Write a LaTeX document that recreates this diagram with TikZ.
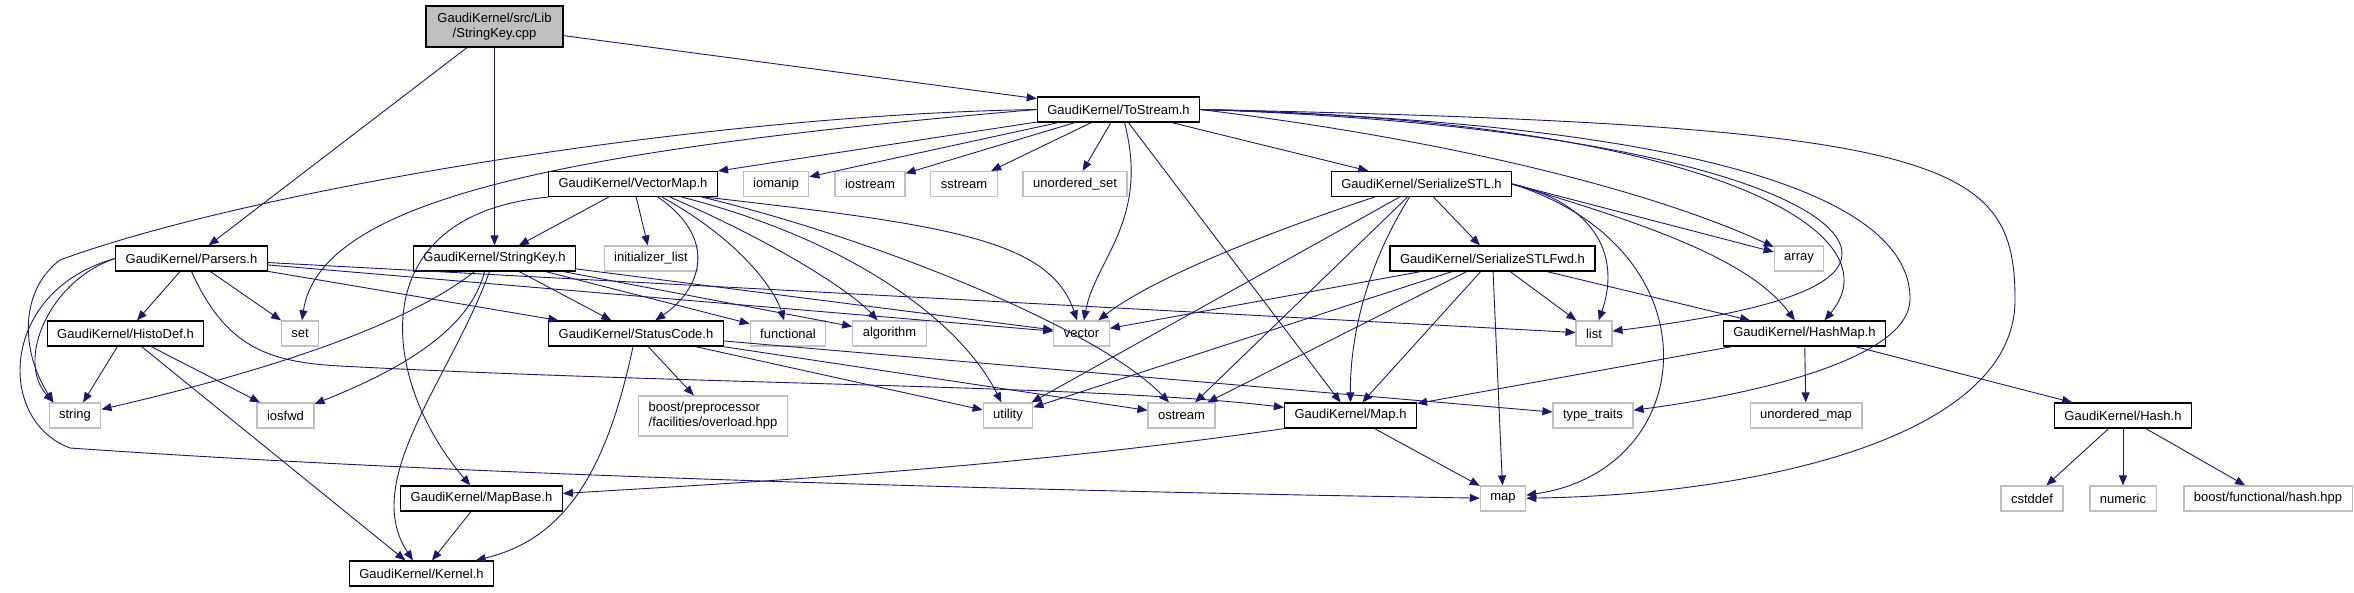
\documentclass[tikz,border=0pt]{standalone}
\usepackage{fontspec}
\setmainfont{Liberation Sans}
\usetikzlibrary{arrows.meta}
\definecolor{edgeblue}{HTML}{191970}
\definecolor{sysgray}{HTML}{BFBFBF}

\begin{document}
\begin{tikzpicture}
	[x=1pt, y=-1pt, font=\fontsize{13}{15}\selectfont,
	 hdr/.style ={rectangle, draw=black, line width=1.2pt, minimum height=25pt, inner xsep=10pt, inner ysep=2pt},
	 sys/.style ={hdr, draw=sysgray},
	 link/.style ={draw=edgeblue, line width=0.9pt, -{Triangle[length=10pt,width=8pt]}}]
	\path[fill=white, use as bounding box] (0,0) rectangle (2354,592);

	\node [hdr, fill=sysgray, align=center, minimum width=137pt, minimum height=41pt] (stringkeycpp) at (494.5,26.5) {GaudiKernel/src/Lib\\/StringKey.cpp};
	\node [hdr] (tostream) at (1118.5,109.5) {GaudiKernel/ToStream.h};
	\node [hdr] (vectormap) at (633,184) {GaudiKernel/VectorMap.h};
	\node [sys] (iomanip) at (776,184) {iomanip};
	\node [sys] (iostream) at (870,184) {iostream};
	\node [sys] (sstream) at (964,184) {sstream};
	\node [sys] (unorderedset) at (1075,184) {unordered\_set};
	\node [hdr] (serializestl) at (1421.5,184) {GaudiKernel/SerializeSTL.h};
	\node [hdr] (parsers) at (191.5,258.5) {GaudiKernel/Parsers.h};
	\node [hdr] (stringkey) at (494.5,258.5) {GaudiKernel/StringKey.h};
	\node [sys] (initlist) at (651,258.5) {initializer\_list};
	\node [hdr] (serializestlfwd) at (1492.5,258.5) {GaudiKernel/SerializeSTLFwd.h};
	\node [sys] (array) at (1799,258.5) {array};
	\node [hdr] (histodef) at (125.5,333.5) {GaudiKernel/HistoDef.h};
	\node [sys] (set) at (300,333.5) {set};
	\node [hdr] (statuscode) at (636,333.5) {GaudiKernel/StatusCode.h};
	\node [sys] (functional) at (788,333.5) {functional};
	\node [sys] (algorithm) at (889.5,333.5) {algorithm};
	\node [sys] (vector) at (1081.5,333.5) {vector};
	\node [sys] (list) at (1594,333.5) {list};
	\node [hdr] (hashmap) at (1804.5,333.5) {GaudiKernel/HashMap.h};
	\node [sys] (string) at (75,415.5) {string};
	\node [sys] (iosfwd) at (285.5,415.5) {iosfwd};
	\node [sys, align=left, minimum height=40pt] (overload) at (713,416) {boost/preprocessor\\/facilities/overload.hpp};
	\node [sys] (utility) at (1008,415.5) {utility};
	\node [sys] (ostream) at (1181.5,415.5) {ostream};
	\node [hdr] (maph) at (1350.5,415.5) {GaudiKernel/Map.h};
	\node [sys] (typetraits) at (1593,415.5) {type\_traits};
	\node [sys] (unorderedmap) at (1806,415.5) {unordered\_map};
	\node [hdr] (hash) at (2123,415.5) {GaudiKernel/Hash.h};
	\node [hdr] (mapbase) at (481.5,498.5) {GaudiKernel/MapBase.h};
	\node [sys] (map) at (1503,498.5) {map};
	\node [sys] (cstddef) at (2032,498.5) {cstddef};
	\node [sys] (numeric) at (2123,498.5) {numeric};
	\node [sys] (boosthash) at (2268,498.5) {boost/functional/hash.hpp};
	\node [hdr] (kernel) at (421.5,573.5) {GaudiKernel/Kernel.h};

	\draw [link] (stringkeycpp) -- (parsers);
	\draw [link] (stringkeycpp) -- (stringkey);
	\draw [link] (stringkeycpp) -- (tostream);

	\draw [link] (tostream) -- (vectormap);
	\draw [link] (tostream) -- (iomanip);
	\draw [link] (tostream) -- (iostream);
	\draw [link] (tostream) -- (sstream);
	\draw [link] (tostream) -- (unorderedset);
	\draw [link] (tostream) -- (serializestl);
	\draw [link] (tostream) -- (maph);
	\draw [link] (tostream.west) .. controls (560,150) and (320,200) .. (set);
	\draw [link] (tostream.west) .. controls (700,115) and (250,190) .. (60,260) .. controls (20,290) and (20,350) .. ([xshift=5pt]string.north west);
	\draw [link] ([xshift=6pt]tostream.south) .. controls (1150,220) and (1095,260) .. (vector);
	\draw [link] (tostream.east) .. controls (1450,140) and (1650,190) .. (array);
	\draw [link] (tostream.east) .. controls (1650,125) and (1845,200) .. (1842,255) .. controls (1840,300) and (1700,320) .. (list);
	\draw [link] (tostream.east) .. controls (1700,120) and (1900,230) .. ([xshift=20pt]hashmap.north);
	\draw [link] (tostream.east) .. controls (1750,125) and (1912,210) .. (1910,300) .. controls (1908,360) and (1750,395) .. (typetraits);
	\draw [link] (tostream.east) .. controls (1950,125) and (2015,160) .. (2015,300) .. controls (2015,440) and (1750,495) .. (map);

	\draw [link] (vectormap) -- (stringkey);
	\draw [link] (vectormap) -- (initlist);
	\draw [link] (vectormap.south west) .. controls (360,215) and (380,380) .. (mapbase);
	\draw [link] ([xshift=25pt]vectormap.south) .. controls (720,240) and (700,290) .. (statuscode);
	\draw [link] ([xshift=29pt]vectormap.south) .. controls (740,240) and (775,290) .. (functional);
	\draw [link] ([xshift=37pt]vectormap.south) .. controls (770,240) and (850,290) .. (algorithm);
	\draw [link] ([xshift=49pt]vectormap.south) .. controls (850,240) and (960,320) .. (utility);
	\draw [link] ([xshift=69pt]vectormap.south) .. controls (880,240) and (1100,330) .. (ostream);
	\draw [link] ([xshift=72pt]vectormap.south) .. controls (950,225) and (1050,240) .. (vector);

	\draw [link] (parsers) -- (histodef);
	\draw [link] (parsers) -- (set);
	\draw [link] (parsers) -- (statuscode);
	\draw [link] (parsers) -- (vector);
	\draw [link] (parsers) -- (list);
	\draw [link] (parsers.west) .. controls (50,280) and (15,360) .. ([xshift=5pt]string.north west);
	\draw [link] (parsers.west) .. controls (0,290) and (-5,420) .. (70,448) .. controls (500,478) and (1100,492) .. (map);
	\draw [link] (parsers.south) .. controls (225,345) and (265,362) .. (340,366) .. controls (700,385) and (1100,385) .. (maph);

	\draw [link] (stringkey) -- (statuscode);
	\draw [link] (stringkey) -- (functional);
	\draw [link] (stringkey) -- (algorithm);
	\draw [link] (stringkey) -- (vector);
	\draw [link] ([xshift=-20pt]stringkey.south) .. controls (400,330) and (250,375) .. (string);
	\draw [link] ([xshift=-10pt]stringkey.south) .. controls (470,330) and (400,370) .. (iosfwd);
	\draw [link] ([xshift=-5pt]stringkey.south) .. controls (450,380) and (360,480) .. (kernel);

	\draw [link] (histodef) -- (string);
	\draw [link] (histodef) -- (iosfwd);
	\draw [link] (histodef) -- (kernel);

	\draw [link] (statuscode) -- (overload);
	\draw [link] (statuscode) -- (utility);
	\draw [link] (statuscode) -- (ostream);
	\draw [link] (statuscode) -- (typetraits);
	\draw [link] ([xshift=-3pt]statuscode.south) .. controls (605,480) and (560,540) .. (kernel);

	\draw [link] (mapbase) -- (kernel);
	\draw [link] (maph) -- (map);
	\draw [link] (maph.south west) .. controls (1000,470) and (700,485) .. (mapbase);

	\draw [link] ([xshift=12pt]serializestl.south) -- (serializestlfwd);
	\draw [link] ([xshift=-22pt]serializestl.south) -- (utility);
	\draw [link] ([xshift=-14pt]serializestl.south) -- (ostream);
	\draw [link] ([xshift=-47pt]serializestl.south) .. controls (1260,235) and (1150,280) .. (vector);
	\draw [link] ([xshift=-12pt]serializestl.south) .. controls (1370,260) and (1350,330) .. (maph);
	\draw [link] (serializestl.east) -- (array);
	\draw [link] (serializestl.east) .. controls (1600,205) and (1620,260) .. (list);
	\draw [link] (serializestl.east) .. controls (1650,225) and (1750,260) .. (hashmap);
	\draw [link] (serializestl.east) .. controls (1720,250) and (1700,470) .. (map);

	\draw [link] (serializestlfwd) -- (vector);
	\draw [link] (serializestlfwd) -- (utility);
	\draw [link] (serializestlfwd) -- (ostream);
	\draw [link] (serializestlfwd) -- (maph);
	\draw [link] (serializestlfwd) -- (map);
	\draw [link] (serializestlfwd) -- (list);
	\draw [link] (serializestlfwd) -- (hashmap);

	\draw [link] (hashmap) -- (maph);
	\draw [link] (hashmap) -- (unorderedmap);
	\draw [link] (hashmap) -- (hash);
	\draw [link] (hash) -- (cstddef);
	\draw [link] (hash) -- (numeric);
	\draw [link] (hash) -- (boosthash);
\end{tikzpicture}
\end{document}
